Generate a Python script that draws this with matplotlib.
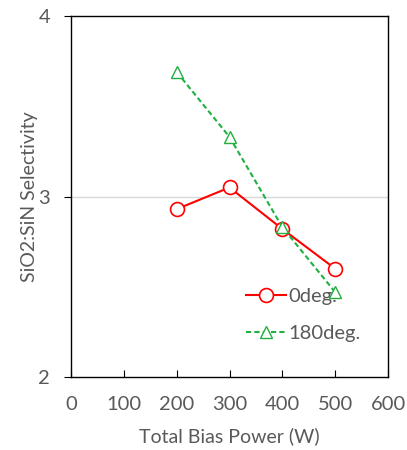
import matplotlib
matplotlib.use("Agg")
import matplotlib.pyplot as plt

power = [200, 300, 400, 500]
sel_0deg = [2.93, 3.05, 2.82, 2.60]
sel_180deg = [3.69, 3.33, 2.83, 2.47]
xticks = [0, 100, 200, 300, 400, 500, 600]
yticks = [2, 3, 4]

plt.rcParams['font.family'] = ['Lato', 'DejaVu Sans']
gray = '#595959'

fig = plt.figure(figsize=(4.07, 4.50), dpi=100)
ax = fig.add_axes([71/407, 1-377/450, (388-71)/407, (377-16)/450])

ax.plot(power, sel_0deg, color='#ff0000', lw=1.5, marker='o', ms=10,
        mfc='white', mec='#ff0000', mew=1.2, label='0deg.', zorder=3)
ax.plot(power, sel_180deg, color='#1fb040', lw=1.5, ls=(0, (2.5, 1.5)), marker='^', ms=8,
        mfc='white', mec='#1fb040', mew=1.0, label='180deg.', zorder=3)

ax.set_xlim(0, 600)
ax.set_ylim(2, 4)
ax.set_xticks(xticks)
ax.set_yticks(yticks)
ax.axhline(3, color='#d9d9d9', lw=1, zorder=1)

for s in ax.spines.values():
    s.set_color('black')
    s.set_linewidth(1.0)

ax.tick_params(axis='x', direction='in', length=5, colors='black', labelcolor=gray,
               labelsize=14.5, pad=14)
ax.tick_params(axis='y', direction='out', length=5, colors='black', labelcolor=gray,
               labelsize=14.5, pad=10)

ax.set_xlabel('Total Bias Power (W)', color=gray, fontsize=14, labelpad=10)
ax.set_ylabel('SiO2:SiN Selectivity', color=gray, fontsize=14, labelpad=0)

leg = ax.legend(loc='upper left', bbox_to_anchor=(0.52, 0.275), frameon=False,
                fontsize=14.5, labelcolor=gray, handlelength=2.0, handletextpad=0.1,
                labelspacing=1.0, borderpad=0)

fig.savefig('out.png', dpi=100)
